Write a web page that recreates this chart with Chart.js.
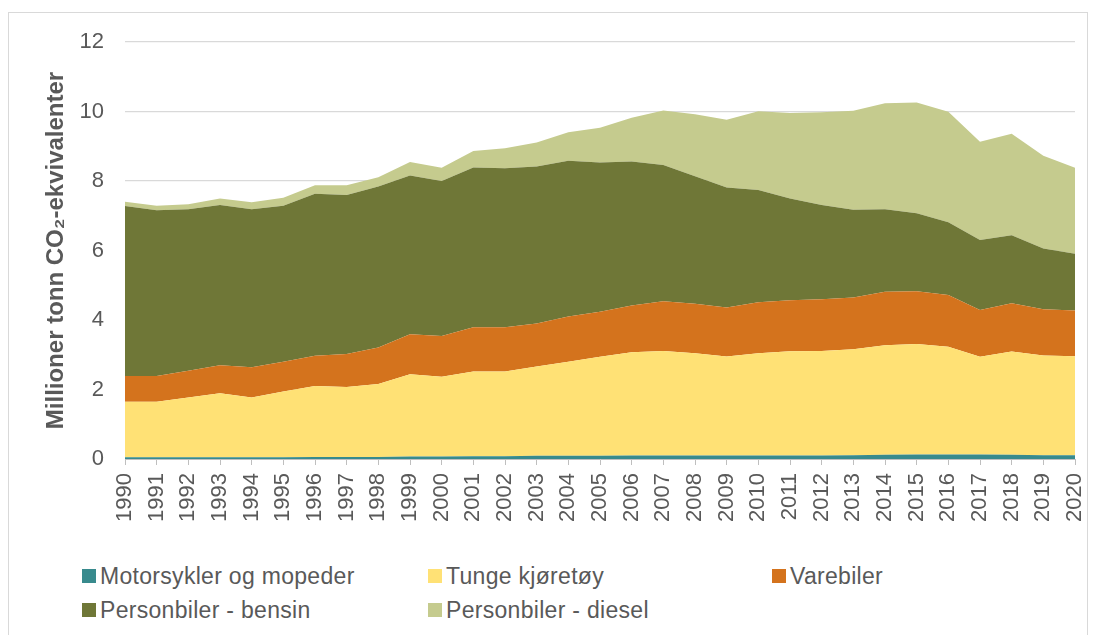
<!DOCTYPE html>
<html>
<head>
<meta charset="utf-8">
<script src="https://cdn.jsdelivr.net/npm/chart.js@4"></script>
<style>
  body { margin: 0; background: #fff; font-family: "Liberation Sans", Arial, sans-serif; }
  #frame { position: absolute; left: 8px; top: 12px; width: 1080px; height: 630px; border: 1px solid #d9d9d9; box-sizing: border-box; }
  #wrap { position: absolute; left: 0; top: 0; width: 1094px; height: 545px; }
  #legend { position: absolute; left: 0; top: 0; }
  .item { position: absolute; font-size: 23px; letter-spacing: 0.3px; color: #595959; white-space: nowrap; line-height: 23px; }
  .item span.box { position: absolute; left: 0; top: 4px; width: 14px; height: 14px; }
  .item span.txt { position: absolute; left: 18px; top: 0; }
</style>
</head>
<body>
<div id="frame"></div>
<div id="wrap"><canvas id="chart" width="1094" height="545"></canvas></div>
<div id="legend"></div>
<script>
var years = [];
for (var y = 1990; y <= 2020; y++) years.push(String(y));

var motorsykler = [0.05, 0.05, 0.05, 0.05, 0.05, 0.05, 0.06, 0.06, 0.06, 0.07, 0.07, 0.08, 0.08, 0.09, 0.09, 0.09,
    0.10, 0.10, 0.10, 0.10, 0.10, 0.10, 0.10, 0.11, 0.12, 0.13, 0.13, 0.13, 0.12, 0.11, 0.11];
var tunge = [1.60, 1.60, 1.72, 1.84, 1.72, 1.89, 2.04, 2.01, 2.10, 2.37, 2.30, 2.44, 2.44, 2.57, 2.71, 2.85,
    2.97, 3.01, 2.94, 2.85, 2.94, 3.00, 3.01, 3.05, 3.15, 3.18, 3.10, 2.81, 2.97, 2.87, 2.85];
var varebiler = [0.74, 0.74, 0.77, 0.81, 0.87, 0.86, 0.87, 0.95, 1.05, 1.15, 1.17, 1.27, 1.27, 1.24, 1.30, 1.30,
    1.35, 1.43, 1.43, 1.41, 1.47, 1.47, 1.49, 1.49, 1.54, 1.52, 1.49, 1.35, 1.39, 1.33, 1.31];
var bensin = [4.89, 4.77, 4.65, 4.61, 4.55, 4.49, 4.66, 4.58, 4.63, 4.57, 4.46, 4.60, 4.58, 4.52, 4.48, 4.29,
    4.14, 3.92, 3.67, 3.45, 3.23, 2.93, 2.71, 2.52, 2.38, 2.24, 2.09, 2.01, 1.96, 1.75, 1.64];
var diesel = [0.12, 0.13, 0.14, 0.19, 0.20, 0.23, 0.25, 0.28, 0.27, 0.39, 0.38, 0.47, 0.57, 0.69, 0.82, 1.00,
    1.26, 1.57, 1.78, 1.95, 2.27, 2.46, 2.67, 2.85, 3.05, 3.19, 3.18, 2.83, 2.92, 2.67, 2.47];

var seriesNames = ['Motorsykler og mopeder', 'Tunge kjøretøy', 'Varebiler', 'Personbiler - bensin', 'Personbiler - diesel'];
var seriesData = [motorsykler, tunge, varebiler, bensin, diesel];
var colours = ['#388a8d', '#ffe175', '#d4731d', '#6f7737', '#c5cb8e'];

var textColour = '#595959';

var datasets = seriesNames.map(function (name, i) {
    return {
        label: name,
        data: seriesData[i],
        backgroundColor: colours[i],
        borderColor: colours[i],
        borderWidth: 0,
        pointRadius: 0,
        tension: 0,
        fill: i === 0 ? 'origin' : '-1'
    };
});

var ctx = document.getElementById('chart').getContext('2d');
var chart = new Chart(ctx, {
    type: 'line',
    data: { labels: years, datasets: datasets },
    options: {
        responsive: false,
        animation: false,
        layout: { padding: { top: 42, right: 19, left: 0, bottom: 0 } },
        plugins: { legend: { display: false }, tooltip: { enabled: false } },
        scales: {
            x: {
                offset: false,
                grid: { drawOnChartArea: false, drawTicks: true, tickLength: 6, color: '#bfbfbf' },
                border: { color: '#bfbfbf' },
                ticks: {
                    minRotation: 90, maxRotation: 90, autoSkip: false, padding: 8,
                    color: textColour, font: { family: '"Liberation Sans", Arial', size: 22 }
                },
                afterFit: function (scale) {
                    scale.height = 86;
                    // the last rotated label fits in the right padding already
                    scale.paddingRight = 0;
                    scale.paddingLeft = 0;
                }
            },
            y: {
                stacked: true,
                min: 0, max: 12,
                ticks: {
                    stepSize: 2, padding: 21,
                    color: textColour, font: { family: '"Liberation Sans", Arial', size: 22 }
                },
                grid: { color: '#d9d9d9', drawTicks: false, lineWidth: 1.3 },
                border: { display: false },
                title: {
                    display: true,
                    text: 'Millioner tonn CO₂-ekvivalenter',
                    color: textColour,
                    font: { family: '"Liberation Sans", Arial', size: 24, weight: 'bold' },
                    padding: { top: 42, bottom: 0 }
                },
                afterFit: function (scale) { scale.width = 125; }
            }
        }
    }
});

// legend laid out as a 3 column grid like the original
var legend = document.getElementById('legend');
var colX = [82, 428, 772];
var rowY = [565, 599];
seriesNames.forEach(function (name, i) {
    var item = document.createElement('div');
    item.className = 'item';
    item.style.left = colX[i % 3] + 'px';
    item.style.top = rowY[Math.floor(i / 3)] + 'px';
    item.innerHTML = '<span class="box" style="background:' + colours[i] + '"></span><span class="txt">' + name + '</span>';
    legend.appendChild(item);
});
</script>
</body>
</html>
